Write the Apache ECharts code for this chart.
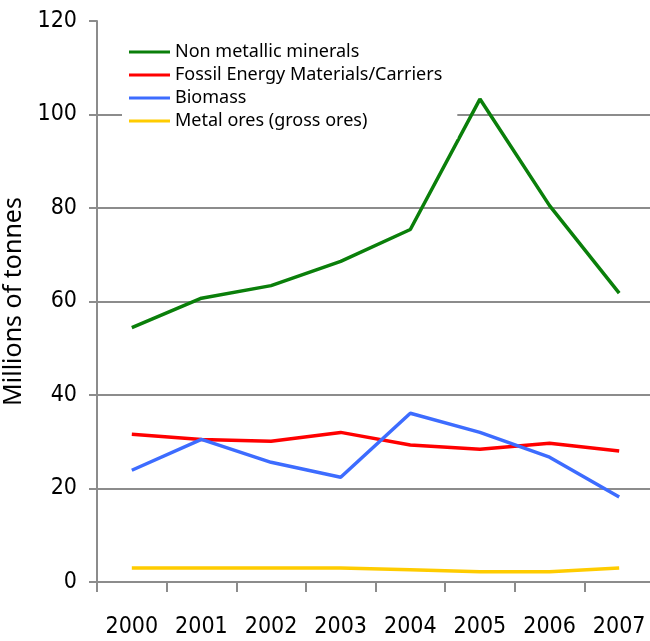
<!DOCTYPE html>
<html>
<head>
<meta charset="utf-8">
<script src="https://cdn.jsdelivr.net/npm/echarts@6/dist/echarts.min.js"></script>
<style>
  html, body { margin: 0; padding: 0; background: #fff; }
  #chart { width: 650px; height: 641px; }
</style>
</head>
<body>
<div id="chart"></div>
<script>
// Annual material extraction, 2000-2007 (millions of tonnes)
const years = ['2000', '2001', '2002', '2003', '2004', '2005', '2006', '2007'];
const nonMetallicMinerals = [54.4, 60.7, 63.4, 68.6, 75.4, 103.3, 80.5, 61.8];
const fossilEnergy = [31.6, 30.5, 30.1, 32.0, 29.3, 28.4, 29.7, 28.0];
const biomass = [23.9, 30.5, 25.6, 22.4, 36.1, 32.0, 26.7, 18.2];
const metalOres = [3.0, 3.0, 3.0, 3.0, 2.6, 2.2, 2.2, 3.0];
const yTicks = [0, 20, 40, 60, 80, 100, 120];

const axisFont = '"Liberation Sans Narrow", "DejaVu Sans Condensed", "Liberation Sans", sans-serif';
const textFont = '"Noto Sans", "Open Sans", sans-serif';
const grey = '#8c8c8c';

const chart = echarts.init(document.getElementById('chart'), null, { renderer: 'canvas' });

const makeSeries = (name, data, color) => ({
  name,
  type: 'line',
  data,
  symbol: 'none',
  lineStyle: { color, width: 3.5 },
  itemStyle: { color },
  emphasis: { disabled: true }
});

chart.setOption({
  animation: false,
  grid: { left: 97, right: -4, top: 21, bottom: 59, containLabel: false, outerBoundsMode: 'none' },
  legend: {
    orient: 'vertical',
    left: 122,
    top: 34,
    padding: [8, 15, 8, 7],
    backgroundColor: '#ffffff',
    itemWidth: 41,
    itemHeight: 3,
    itemGap: 3,
    icon: 'rect',
    textStyle: { fontFamily: textFont, fontSize: 18, lineHeight: 20, color: '#000' },
    data: ['Non metallic minerals', 'Fossil Energy Materials/Carriers', 'Biomass', 'Metal ores (gross ores)']
  },
  xAxis: {
    type: 'category',
    data: years,
    boundaryGap: true,
    axisLine: { lineStyle: { color: grey, width: 2 } },
    axisTick: { show: true, length: 10, interval: 0, lineStyle: { color: grey, width: 2 } },
    axisLabel: { fontFamily: axisFont, fontSize: 23, color: '#000', margin: 34, interval: 0 }
  },
  yAxis: {
    type: 'value',
    min: yTicks[0],
    max: yTicks[yTicks.length - 1],
    interval: yTicks[1] - yTicks[0],
    name: 'Millions of tonnes',
    nameLocation: 'middle',
    nameGap: 66,
    nameTextStyle: { fontFamily: textFont, fontSize: 25, color: '#000' },
    axisLine: { show: true, lineStyle: { color: grey, width: 2 } },
    axisTick: { show: true, length: 8, lineStyle: { color: grey, width: 2 } },
    axisLabel: { fontFamily: axisFont, fontSize: 23, color: '#000', margin: 20 },
    splitLine: {
      show: true,
      lineStyle: { color: [grey, grey, grey, grey, grey, grey, 'rgba(0,0,0,0)'], width: 2 }
    }
  },
  series: [
    makeSeries('Non metallic minerals', nonMetallicMinerals, '#0a7f0a'),
    makeSeries('Fossil Energy Materials/Carriers', fossilEnergy, '#ff0000'),
    makeSeries('Biomass', biomass, '#3d6cff'),
    makeSeries('Metal ores (gross ores)', metalOres, '#ffcc00')
  ]
});
</script>
</body>
</html>
